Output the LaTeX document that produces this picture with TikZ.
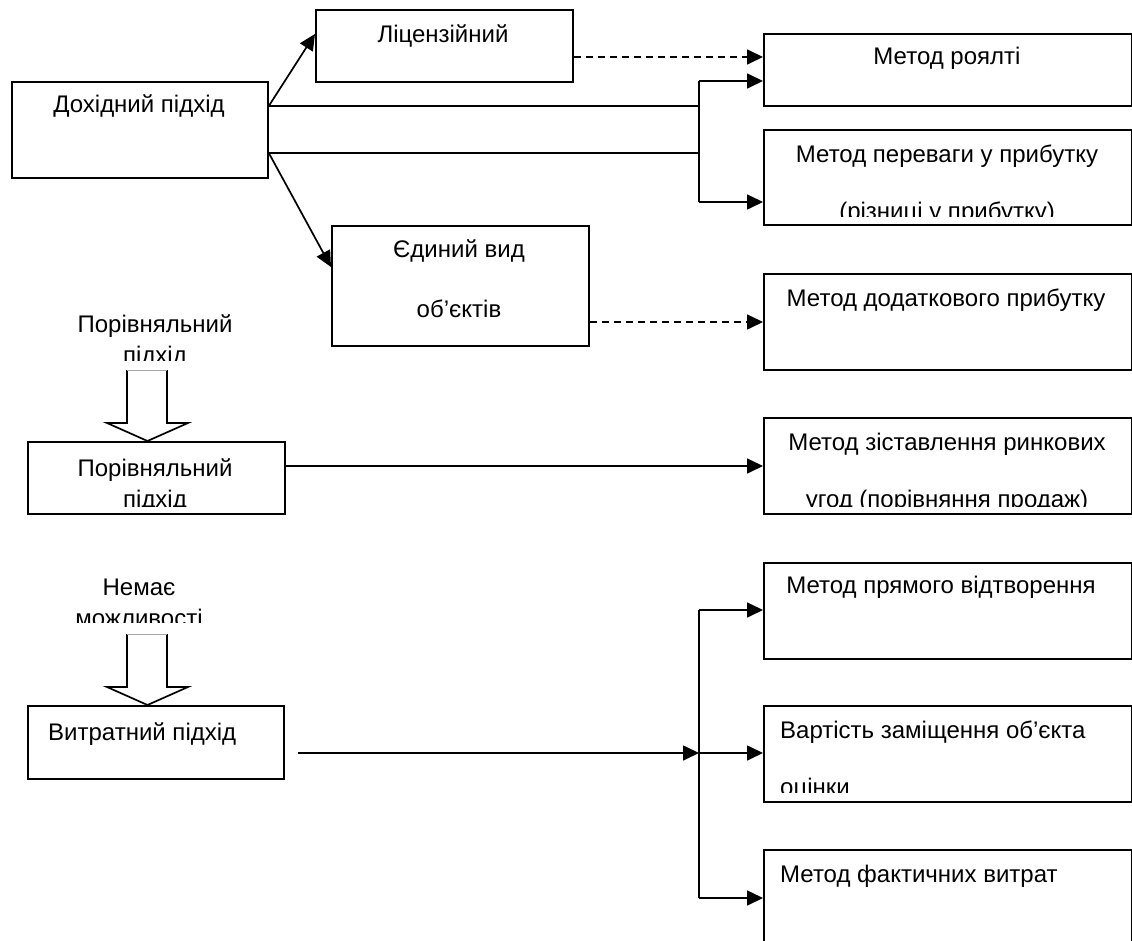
\documentclass[tikz,border=0pt]{standalone}
\usepackage{fontspec}
\setmainfont{Liberation Sans}
\usetikzlibrary{arrows.meta}
\begin{document}
\begin{tikzpicture}[x=1pt,y=-1pt,
  box/.style={draw, line width=1.8pt, anchor=north west, inner sep=0pt},
  txt/.style={font=\fontsize{24}{28}\selectfont, inner sep=0pt, anchor=base},
  txtl/.style={txt, anchor=base west},
  conn/.style={line width=1.7pt},
  arr/.style={line width=1.7pt, -{Triangle[length=16pt,width=15pt]}},
  dsh/.style={arr, dash pattern=on 7pt off 5pt},
  hollow/.style={line width=1.7pt, fill=white, line join=miter}]
\clip (0,0) rectangle (1132,941);
\fill[white] (0,0) rectangle (1132,941);

% boxes
\node[box, minimum width=256pt, minimum height=96pt] (dohid) at (11,81) {};
\node[box, minimum width=257pt, minimum height=72pt] (lic) at (315,9) {};
\node[box, minimum width=368pt, minimum height=72pt] (roy) at (763,33) {};
\node[box, minimum width=368pt, minimum height=95pt] (perev) at (763,129) {};
\node[box, minimum width=257pt, minimum height=120pt] (yed) at (331,225) {};
\node[box, minimum width=368pt, minimum height=96pt] (dodat) at (763,273) {};
\node[box, minimum width=257pt, minimum height=72pt] (por) at (27,441) {};
\node[box, minimum width=368pt, minimum height=96pt] (zist) at (763,417) {};
\node[box, minimum width=256pt, minimum height=73pt] (vit) at (27,705) {};
\node[box, minimum width=368pt, minimum height=96pt] (prym) at (763,562) {};
\node[box, minimum width=368pt, minimum height=96pt] (vart) at (763,705) {};
\node[box, minimum width=368pt, minimum height=130pt] (fakt) at (763,849) {};

% texts
\node[txt] (tdohid) at (139,113) {Дохідний підхід};
\node[txt] (tlic) at (443,43) {Ліцензійний};
\node[txt] (troy) at (947,65) {Метод роялті};
\node[txt] (tperev1) at (947,163) {Метод переваги у прибутку};
\begin{scope}
  \clip (perev.north west) rectangle ([yshift=9pt]perev.south east);
  \node[txt] (tperev2) at (947,220) {(різниці у прибутку)};
\end{scope}
\node[txt] (tyed1) at (459,258) {Єдиний вид};
\node[txt] (tyed2) at (459,317) {об’єктів};
\node[txt] (tdodat) at (946,306) {Метод додаткового прибутку};
\node[txt] (tlab1a) at (155,332) {Порівняльний};
\begin{scope}
  \clip (0,340) rectangle (330,360);
  \node[txt] (tlab1b) at (155,363) {підхід};
\end{scope}
\node[txt] (tpor1) at (155,476) {Порівняльний};
\begin{scope}
  \clip (por.north west) rectangle ([yshift=8pt]por.south east);
  \node[txt] (tpor2) at (155,507) {підхід};
\end{scope}
\node[txt] (tzist1) at (947,450) {Метод зіставлення ринкових};
\begin{scope}
  \clip (zist.north west) rectangle ([yshift=8pt]zist.south east);
  \node[txt] (tzist2) at (947,507) {угод (порівняння продаж)};
\end{scope}
\node[txt] (tlab2a) at (139,595) {Немає};
\begin{scope}
  \clip (0,600) rectangle (330,622);
  \node[txt] (tlab2b) at (139,626) {можливості};
\end{scope}
\node[txtl] (tvit) at (48,740) {Витратний підхід};
\node[txt] (tprym) at (941,593) {Метод прямого відтворення};
\node[txtl] (tvart1) at (780,738) {Вартість заміщення об’єкта};
\begin{scope}
  \clip (vart.north west) rectangle ([yshift=10pt]vart.south east);
  \node[txtl] (tvart2) at (780,795) {оцінки};
\end{scope}
\node[txtl] (tfakt) at (780,882) {Метод фактичних витрат};

% junction coordinates
\coordinate (ja) at (699,81);
\coordinate (jb) at (699,202);
\coordinate (jc) at (699,610);
\coordinate (jd) at (699,753);
\coordinate (je) at (699,898);
\coordinate (vstart) at (298,753);

% connectors from Дохідний підхід
\draw[arr] (dohid.east |- 0,106) -- (lic.west |- 0,34);
\draw[arr] (dohid.east |- 0,153) -- (yed.west |- 0,267);
\draw[conn] (dohid.east |- 0,106) -- (ja |- 0,106);
\draw[conn] (dohid.east |- 0,153) -- (jb |- 0,153);
\draw[conn] (jb) -- (ja);
\draw[arr] (ja) -- (roy.west |- ja);
\draw[arr] (jb) -- (perev.west |- jb);
\draw[dsh] (lic.east |- 0,57) -- (roy.west |- 0,57);
\draw[dsh] (yed.east |- 0,322) -- (dodat.west |- 0,322);

% comparative
\draw[arr] (por.east |- 0,466) -- (zist.west |- 0,466);

% cost
\draw[arr] (vstart) -- (jd);
\draw[conn] (jc) -- (je);
\draw[arr] (jc) -- (prym.west |- jc);
\draw[arr] (jd) -- (vart.west |- jd);
\draw[arr] (je) -- (fakt.west |- je);

% hollow block arrows
\draw[hollow] (127,370) -- (127,423) -- (107,423) -- (147.5,441) -- (188,423) -- (167,423) -- (167,370);
\draw[line width=1pt, black!35] (127,370) -- (167,370);
\draw[hollow] (127,634) -- (127,687) -- (107,687) -- (147.5,705) -- (188,687) -- (167,687) -- (167,634);
\draw[line width=1pt, black!35] (127,634) -- (167,634);
\end{tikzpicture}
\end{document}
